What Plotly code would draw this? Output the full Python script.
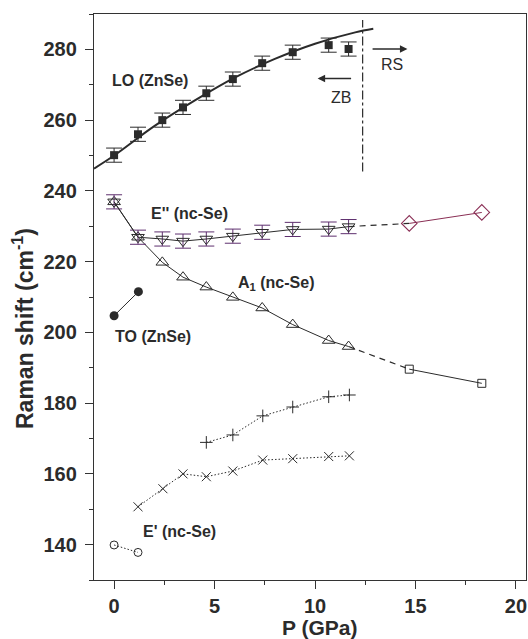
import plotly.graph_objects as go

# ---------------- data ----------------
P_MAIN = [0.0, 1.19, 2.4, 3.43, 4.59, 5.91, 7.37, 8.89, 10.68, 11.67]

LO_SHIFT = [250.1, 256.0, 260.0, 263.6, 267.6, 271.6, 276.1, 279.2, 281.2, 280.1]
LO_ERR = [2.0, 2.0, 2.0, 2.0, 2.0, 2.0, 2.0, 2.0, 2.0, 2.0]

LO_FIT_P = [-1.0, 0.0, 2.0, 4.0, 6.0, 8.0, 10.0, 12.0, 12.9]
LO_FIT_SHIFT = [246.3, 250.0, 258.3, 265.5, 272.0, 277.3, 281.6, 284.8, 285.8]

E2_SHIFT = [236.9, 226.9, 226.4, 225.8, 226.4, 227.2, 228.3, 229.1, 229.2, 229.9]
E2_ERR = [2.0, 2.0, 2.0, 2.0, 2.0, 2.0, 2.0, 2.0, 2.0, 2.0]

A1_SHIFT = [236.9, 226.9, 219.8, 215.6, 212.8, 209.9, 206.9, 202.2, 197.7, 196.0]

P_HIGH = [14.69, 18.3]
E2_HIGH = [230.8, 233.9]
A1_HIGH = [189.6, 185.6]

TO_P = [0.0, 1.21]
TO_SHIFT = [204.7, 211.5]

PLUS_P = [4.59, 5.91, 7.4, 8.89, 10.68, 11.71]
PLUS_SHIFT = [168.9, 171.0, 176.4, 178.9, 181.8, 182.3]

CROSS_P = [1.19, 2.43, 3.43, 4.59, 5.91, 7.4, 8.89, 10.68, 11.71]
CROSS_SHIFT = [150.7, 155.8, 160.0, 159.2, 160.8, 163.9, 164.3, 164.9, 165.1]

E1_P = [0.0, 1.19]
E1_SHIFT = [139.9, 137.8]

PHASE_P = 12.37
PHASE_RANGE = [245.5, 288.3]

X_TICKS = [0, 5, 10, 15, 20]
Y_TICKS = [140, 160, 180, 200, 220, 240, 260, 280]

# ---------------- style ----------------
INK = "#2b2b2b"
PURPLE = "#5e2f6e"
MAROON = "#8a2f55"
FONT = "Liberation Sans, Arial, Helvetica, sans-serif"
DOTS = "1.5px,2px"

fig = go.Figure()

# LO fit curve
fig.add_trace(go.Scatter(x=LO_FIT_P, y=LO_FIT_SHIFT, mode="lines",
                         line=dict(color=INK, width=2, shape="spline"),
                         hoverinfo="skip"))

# phase boundary dash-dot line
fig.add_trace(go.Scatter(x=[PHASE_P, PHASE_P], y=PHASE_RANGE, mode="lines",
                         line=dict(color=INK, width=1.2, dash="dashdot")))

# LO (ZnSe)
fig.add_trace(go.Scatter(x=P_MAIN, y=LO_SHIFT, mode="markers",
                         marker=dict(symbol="square", size=8, color=INK),
                         error_y=dict(type="data", array=LO_ERR, visible=True,
                                      color=INK, thickness=1, width=8)))

# A1 (nc-Se)
fig.add_trace(go.Scatter(x=P_MAIN, y=A1_SHIFT, mode="lines+markers",
                         line=dict(color=INK, width=1),
                         marker=dict(symbol="triangle-up-open", size=11,
                                     color=INK, line=dict(width=1))))
fig.add_trace(go.Scatter(x=[P_MAIN[-1], P_HIGH[0]], y=[A1_SHIFT[-1], A1_HIGH[0]],
                         mode="lines", line=dict(color=INK, width=1.2, dash="6px,5px")))
fig.add_trace(go.Scatter(x=P_HIGH, y=A1_HIGH, mode="lines+markers",
                         line=dict(color=INK, width=1),
                         marker=dict(symbol="square-open", size=8, color=INK,
                                     line=dict(width=1))))

# E'' (nc-Se)
fig.add_trace(go.Scatter(x=P_MAIN, y=E2_SHIFT, mode="lines+markers",
                         line=dict(color=INK, width=1),
                         marker=dict(symbol="triangle-down-open", size=11,
                                     color=INK, line=dict(width=1)),
                         error_y=dict(type="data", array=E2_ERR, visible=True,
                                      color=PURPLE, thickness=1, width=8)))
fig.add_trace(go.Scatter(x=[P_MAIN[-1], P_HIGH[0]], y=[E2_SHIFT[-1], E2_HIGH[0]],
                         mode="lines", line=dict(color=INK, width=1.2, dash="6px,5px")))
fig.add_trace(go.Scatter(x=P_HIGH, y=E2_HIGH, mode="lines+markers",
                         line=dict(color=MAROON, width=1),
                         marker=dict(symbol="diamond-open", size=12, color=MAROON,
                                     line=dict(width=1.1))))

# TO (ZnSe)
fig.add_trace(go.Scatter(x=TO_P, y=TO_SHIFT, mode="lines+markers",
                         line=dict(color=INK, width=1),
                         marker=dict(symbol="circle", size=9, color=INK)))

# + series
fig.add_trace(go.Scatter(x=PLUS_P, y=PLUS_SHIFT, mode="lines+markers",
                         line=dict(color=INK, width=1, dash=DOTS),
                         marker=dict(symbol="cross-thin", size=9,
                                     line=dict(color=INK, width=1))))

# x series
fig.add_trace(go.Scatter(x=CROSS_P, y=CROSS_SHIFT, mode="lines+markers",
                         line=dict(color=INK, width=1, dash=DOTS),
                         marker=dict(symbol="x-thin", size=9,
                                     line=dict(color=INK, width=1))))

# E' (nc-Se)
fig.add_trace(go.Scatter(x=E1_P, y=E1_SHIFT, mode="lines+markers",
                         line=dict(color=INK, width=1, dash=DOTS),
                         marker=dict(symbol="circle-open", size=8, color=INK,
                                     line=dict(width=1))))

lab = dict(family=FONT, size=16, color=INK)
annotations = [
    dict(x=1.77, y=271.3, text="<b>LO (ZnSe)</b>"),
    dict(x=3.76, y=233.7, text="<b>E'' (nc-Se)</b>"),
    dict(x=8.07, y=213.9, text="<b>A<sub>1</sub> (nc-Se)</b>"),
    dict(x=1.94, y=198.8, text="<b>TO (ZnSe)</b>"),
    dict(x=3.27, y=143.7, text="<b>E' (nc-Se)</b>"),
    dict(x=13.83, y=275.8, text="RS"),
    dict(x=11.3, y=266.5, text="ZB"),
]
for a in annotations:
    a.update(xref="x", yref="y", showarrow=False, font=lab,
             xanchor="center", yanchor="middle")

# arrows
annotations += [
    dict(x=14.6, y=280.1, ax=12.79, ay=280.1, xref="x", yref="y",
         axref="x", ayref="y", showarrow=True, arrowhead=2, arrowsize=1,
         arrowwidth=1.5, arrowcolor=INK, text=""),
    dict(x=10.13, y=271.8, ax=11.87, ay=271.8, xref="x", yref="y",
         axref="x", ayref="y", showarrow=True, arrowhead=2, arrowsize=1,
         arrowwidth=1.5, arrowcolor=INK, text=""),
]

# axis titles
annotations += [
    dict(x=(319 - 94) / 432, y=-(627 - 580) / 566, xref="paper", yref="paper",
         text="<b>P (GPa)</b>", showarrow=False, xanchor="center", yanchor="middle",
         font=dict(family=FONT, size=21, color=INK)),
    dict(x=(23 - 94) / 432, y=(580 - 329) / 566, xref="paper", yref="paper",
         text="<b>Raman shift (cm<sup>-1</sup>)</b>", showarrow=False, textangle=-90,
         xanchor="center", yanchor="middle",
         font=dict(family=FONT, size=23, color=INK)),
]

axis_common = dict(showline=True, linecolor="#333333", linewidth=1.4, mirror=True,
                   ticks="outside", ticklen=8, tickwidth=1.3, tickcolor="#333333",
                   showgrid=False, zeroline=False, automargin=False,
                   tickfont=dict(family=FONT, size=20, color=INK))

fig.update_xaxes(range=[-1, 20.5], tickvals=X_TICKS, ticktext=[f"<b>{v}</b>" for v in X_TICKS],
                 minor=dict(ticks="outside", ticklen=4, tickwidth=1.3,
                            tickcolor="#333333", dtick=2.5, tick0=0),
                 **axis_common)
fig.update_yaxes(range=[130, 290], tickvals=Y_TICKS, ticktext=[f"<b>{v}</b>" for v in Y_TICKS],
                 ticklabelstandoff=4,
                 minor=dict(ticks="outside", ticklen=4, tickwidth=1.3,
                            tickcolor="#333333", dtick=10, tick0=130),
                 **axis_common)

fig.update_layout(width=528, height=639, showlegend=False,
                  margin=dict(l=94, r=2, t=14, b=59, autoexpand=False),
                  paper_bgcolor="white", plot_bgcolor="white",
                  annotations=annotations)

fig.write_html("out.html", config={"displayModeBar": False},
               post_script="document.body.style.margin='0px';"
                           "document.body.style.overflow='hidden';")
